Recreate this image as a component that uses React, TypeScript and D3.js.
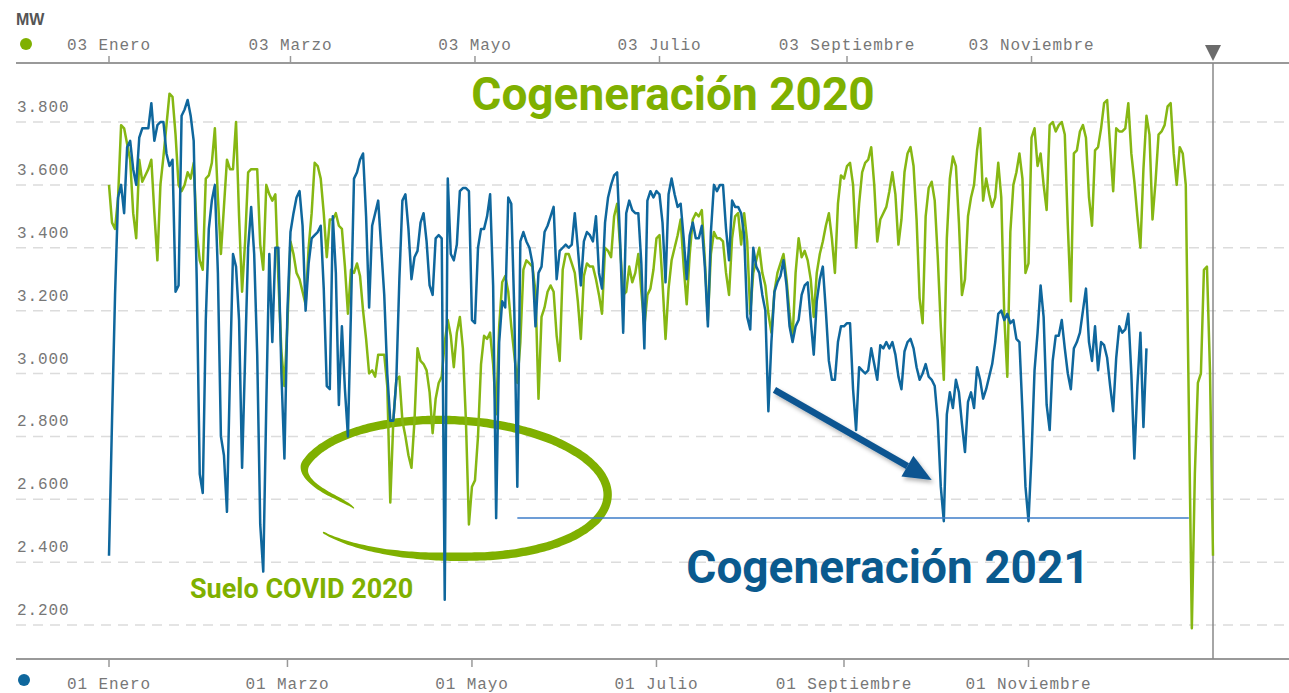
import * as d3 from "d3";

// Cogeneración diaria (MW). 2021 empieza el 01/01/2021, 2020 el 03/01/2020 (mismo día de la semana)
const inicio2021 = new Date(2021, 0, 1);
const inicio2020 = new Date(2020, 0, 3);

const cog2021 = [
  2420, 2850, 3250, 3560, 3600, 3510, 3720, 3740, 3650, 3600,
  3750, 3780, 3780, 3780, 3860, 3740, 3790, 3800, 3800, 3700,
  3660, 3680, 3260, 3280, 3820, 3840, 3870, 3820, 3740, 3300,
  2680, 2620, 3170, 3460, 3550, 3600, 3320, 2800, 2740, 2560,
  3000, 3380, 3340, 3170, 2700, 3050, 3400, 3530, 3380, 3060,
  2520, 2370, 2900, 3380, 3100, 3400, 3400, 3000, 2730, 3200,
  3450, 3510, 3560, 3580, 3470, 3200, 3350, 3430, 3440, 3450,
  3470, 3270, 2960, 2950, 3500, 3320, 2900, 3150, 2950, 2800,
  3200, 3620, 3640, 3680, 3700, 3500, 3210, 3470, 3510, 3550,
  3400, 3250, 3000, 2850, 2850, 2980, 3300, 3550, 3570, 3460,
  3300, 3370, 3390, 3480, 3510, 3420, 3280, 3250, 3430, 3440,
  3430, 2280, 3620, 3380, 3360, 3410, 3580, 3590, 3590, 3580,
  3170, 3160, 3400, 3460, 3460, 3500, 3570, 3280, 2540, 3100,
  3230, 3210, 3560, 3540, 3200, 2640, 3420, 3450, 3420, 3400,
  3350, 3150, 3320, 3340, 3450, 3470, 3500, 3530, 3300, 3390,
  3400, 3410, 3400, 3410, 3510, 3400, 3280, 3420, 3450, 3440,
  3420, 3500, 3320, 3270, 3480, 3560, 3600, 3630, 3640, 3420,
  3130, 3510, 3550, 3520, 3510, 3510, 3350, 3080, 3550, 3580,
  3560, 3580, 3570, 3480, 3290, 3570, 3620, 3570, 3530, 3540,
  3430, 3300, 3440, 3480, 3430, 3430, 3470, 3340, 3150, 3450,
  3600, 3580, 3600, 3600, 3460, 3360, 3550, 3530, 3530, 3510,
  3440, 3180, 3140, 3400, 3340, 3320, 3250, 3200, 2880, 3100,
  3260, 3290, 3310, 3360, 3280, 3150, 3100, 3150, 3170, 3250,
  3280, 3290, 3170, 3060, 3230, 3300, 3340, 3200, 3040, 2980,
  2980, 3100, 3150, 3150, 3160, 3160, 2950, 2820, 3020, 3010,
  3000, 3010, 3080, 3030, 2980, 3090, 3080, 3100, 3080, 3100,
  3060, 2990, 2950, 3070, 3100, 3110, 3080, 3020, 2980, 3000,
  3030, 2990, 2980, 2960, 2850, 2640, 2530, 2870, 2940, 2890,
  2980, 2940, 2840, 2750, 2910, 2940, 2890, 3020, 2980, 2920,
  2950, 2990, 3030, 3100, 3190, 3200, 3170, 3190, 3160, 3170,
  3110, 3100, 2880, 2640, 2530, 2740, 3010, 3130, 3280, 3180,
  2900, 2820, 3040, 3120, 3120, 3170, 3080, 3000, 2950, 3080,
  3100, 3130, 3200, 3270, 3100, 3040, 3150, 3010, 3100, 3090,
  3050, 2960, 2880, 3050, 3150, 3130, 3140, 3190, 3000, 2730,
  2960, 3130, 2830, 3080,
];

const cog2020 = [
  3600, 3480, 3460, 3560, 3790, 3780, 3730, 3680, 3510, 3430,
  3680, 3610, 3630, 3650, 3680, 3510, 3360, 3600, 3690, 3790,
  3890, 3880, 3760, 3600, 3580, 3600, 3640, 3620, 3670, 3450,
  3360, 3330, 3620, 3630, 3670, 3780, 3560, 3380, 3530, 3680,
  3650, 3650, 3800, 3500, 3260, 3420, 3640, 3650, 3650, 3650,
  3410, 3330, 3600, 3570, 3550, 3570, 3300, 3070, 2960, 3160,
  3420, 3380, 3320, 3300, 3260, 3220, 3400, 3510, 3670, 3660,
  3620, 3510, 3370, 3490, 3490, 3510, 3470, 3460, 3340, 3190,
  3330, 3320, 3350, 3310, 3200, 3110, 3000, 3010, 2990, 3060,
  3060, 3060, 2960, 2590, 2850, 2980, 2990, 2850, 2800, 2740,
  2700, 2850, 3080, 3040, 3030, 3010, 2940, 2810, 2920, 2970,
  2990, 3100, 3170, 3120, 3020, 3130, 3180, 3080, 2850, 2520,
  2640, 2660, 2800, 3030, 3120, 3110, 3130, 3030, 2870, 3150,
  3290, 3310, 3260, 3150, 3060, 2970, 3100, 3330, 3360, 3350,
  3340, 3260, 2920, 3180, 3210, 3260, 3280, 3260, 3120, 3040,
  3330, 3380, 3380, 3350, 3320, 3230, 3110, 3310, 3350, 3340,
  3340, 3300, 3250, 3190, 3400, 3390, 3370, 3500, 3540, 3400,
  3250, 3260, 3340, 3290, 3320, 3380, 3260, 3150, 3250, 3270,
  3330, 3430, 3440, 3290, 3110, 3270, 3360, 3400, 3440, 3490,
  3340, 3220, 3380, 3490, 3510, 3500, 3520, 3360, 3170, 3380,
  3450, 3430, 3430, 3420, 3320, 3250, 3430, 3500, 3510, 3410,
  3510, 3420, 3190, 3320, 3360, 3400, 3320, 3280, 3190, 3130,
  3260, 3320, 3350, 3380, 3300, 3190, 3110, 3320, 3430, 3370,
  3390, 3360, 3300, 3180, 3320, 3380, 3420, 3470, 3510, 3430,
  3320, 3540, 3630, 3620, 3660, 3670, 3600, 3400, 3540, 3640,
  3670, 3680, 3720, 3600, 3420, 3490, 3510, 3530, 3580, 3640,
  3570, 3410, 3490, 3640, 3700, 3720, 3660, 3490, 3240, 3160,
  3500, 3590, 3610, 3550, 3370, 3150, 2980, 3430, 3620, 3690,
  3660, 3480, 3250, 3300, 3500, 3560, 3600, 3710, 3780, 3550,
  3620, 3570, 3530, 3560, 3670, 3560, 3180, 2990, 3450, 3600,
  3640, 3700, 3620, 3320, 3350, 3750, 3780, 3660, 3700, 3600,
  3520, 3790, 3800, 3770, 3790, 3800, 3760, 3470, 3230, 3700,
  3710, 3770, 3790, 3750, 3560, 3470, 3710, 3720, 3780, 3860,
  3870, 3720, 3580, 3780, 3770, 3770, 3780, 3860, 3700, 3610,
  3500, 3400, 3650, 3820, 3760, 3490, 3610, 3760, 3770, 3790,
  3850, 3860, 3700, 3600, 3720, 3700, 3600, 2900, 2190, 2680,
  2970, 3000, 3330, 3340, 3010, 2420,
];

const meses = ["Enero", "Febrero", "Marzo", "Abril", "Mayo", "Junio", "Julio",
  "Agosto", "Septiembre", "Octubre", "Noviembre", "Diciembre"];
const mesesTick = [0, 2, 4, 6, 8, 10];
const yTicks = [2200, 2400, 2600, 2800, 3000, 3200, 3400, 3600, 3800];
const suelo2021 = 2540;

const W = 1289;
const H = 693;
const VERDE = "#86b713";
const AZUL = "#0f679d";
const VERDE_TXT = "#7fb000";
const AZUL_TXT = "#0a5a8e";
const MONO = "'Liberation Mono', 'DejaVu Sans Mono', monospace";
const ROBOTO = "Roboto, 'Noto Sans', sans-serif";

const dia = (start: Date, i: number) =>
  new Date(start.getFullYear(), start.getMonth(), start.getDate() + i);

const esLocale = d3.formatLocale({ decimal: ",", thousands: ".", grouping: [3], currency: ["", " €"] });
const fmt = esLocale.format(",");
const pad = d3.format("02");

// trazo a mano alzada: espiral elíptica con grosor variable (extremos finos)
function trazoElipse(cx: number, cy: number, rx: number, ry: number) {
  const t0 = 150, t1 = 499, rot = (3 * Math.PI) / 180;
  const smooth = (u: number) => (u <= 0 ? 0 : u >= 1 ? 1 : u * u * (3 - 2 * u));
  const outer: [number, number][] = [];
  const inner: [number, number][] = [];
  for (let t = t0; t <= t1; t += 2) {
    const a = (t * Math.PI) / 180;
    const r = 0.74 + 0.26 * smooth((t - t0) / 45) + 0.12 * smooth((t - 440) / 59);
    const u = (t - t0) / (t1 - t0);
    const taper = Math.pow(Math.min(1, u / 0.12), 0.7) * Math.pow(Math.min(1, (1 - u) / 0.14), 0.7);
    const w = 0.8 + 7.6 * taper;
    const px = rx * r * Math.cos(a);
    const py = ry * r * Math.sin(a);
    const nx = Math.cos(a) / rx, ny = Math.sin(a) / ry;
    const nl = Math.hypot(nx, ny);
    const ox = (nx / nl) * (w / 2), oy = (ny / nl) * (w / 2);
    const rotp = (qx: number, qy: number): [number, number] => [
      cx + qx * Math.cos(rot) - qy * Math.sin(rot),
      cy + qx * Math.sin(rot) + qy * Math.cos(rot),
    ];
    outer.push(rotp(px + ox, py + oy));
    inner.push(rotp(px - ox, py - oy));
  }
  const pts = outer.concat(inner.reverse());
  return d3.line().curve(d3.curveCatmullRomClosed)(pts) ?? "";
}

export default function App() {
  const left = 16;
  const top = 63;
  const bottom = 659;

  const x = d3.scaleTime().domain([inicio2021, new Date(2022, 0, 1)]).range([109, 1213]);
  const xTop = d3.scaleTime().domain([inicio2020, new Date(2021, 0, 2)]).range([109, 1213]);
  const y = d3.scaleLinear().domain([2200, 3800]).range([625, 122]);

  const d2021 = cog2021.map((v, i) => ({ date: dia(inicio2021, i), v }));
  const d2020 = cog2020.map((v, i) => ({ date: dia(inicio2020, i), v }));

  const line21 = d3.line<{ date: Date; v: number }>().x((d) => x(d.date)).y((d) => y(d.v));
  const line20 = d3.line<{ date: Date; v: number }>().x((d) => xTop(d.date)).y((d) => y(d.v));

  const topTicks = mesesTick.map((m) => new Date(2020, m, 3));
  const botTicks = mesesTick.map((m) => new Date(2021, m, 1));
  const marcaX = xTop(d2020[d2020.length - 1].date);

  // flecha: desde el hueco de agosto hasta el mínimo de octubre
  const ax0 = x(new Date(2021, 7, 9));
  const ay0 = y(2948);
  const ax1 = x(new Date(2021, 8, 30));
  const ay1 = y(2661);
  const ang = Math.atan2(ay1 - ay0, ax1 - ax0);
  const headL = 28;
  const headW = 12;
  const bx = ax1 - headL * Math.cos(ang);
  const by = ay1 - headL * Math.sin(ang);
  const head = [
    [ax1, ay1],
    [bx + headW * Math.sin(ang), by - headW * Math.cos(ang)],
    [bx - headW * Math.sin(ang), by + headW * Math.cos(ang)],
  ];

  // elipse alrededor del suelo COVID 2020
  const elipse = trazoElipse(x(new Date(2021, 3, 25)), y(2635), 154, 68);

  return (
    <svg width={W} height={H} style={{ position: "absolute", left: 0, top: 0, background: "#fff" }}>
      <defs>
        <filter id="sombra" x="-10%" y="-10%" width="130%" height="140%">
          <feDropShadow dx="2" dy="3" stdDeviation="2" floodColor="#000" floodOpacity="0.3" />
        </filter>
      </defs>

      <text x={left} y={25} fontFamily="'Liberation Sans', Arial, sans-serif" fontWeight="bold" fontSize={16} fill="#555">MW</text>

      {/* rejilla */}
      {yTicks.map((t) => (
        <g key={t}>
          <line x1={left} x2={W} y1={y(t)} y2={y(t)} stroke="#dcdcdc" strokeWidth={1.5} strokeDasharray="10,7" />
          <text x={17} y={y(t) - 10} fontFamily={MONO} fontSize={16} fill="#777" letterSpacing={0.9}>{fmt(t)}</text>
        </g>
      ))}

      {/* eje superior 2020 */}
      <line x1={left} x2={W} y1={top} y2={top} stroke="#999" strokeWidth={2} />
      <circle cx={26} cy={44} r={6} fill={VERDE_TXT} />
      {topTicks.map((t) => (
        <g key={+t} transform={`translate(${xTop(t)},0)`}>
          <line y1={top - 7} y2={top} stroke="#999" strokeWidth={1.5} />
          <text y={50} textAnchor="middle" fontFamily={MONO} fontSize={16} fill="#777" letterSpacing={0.9}>
            {`${pad(t.getDate())} ${meses[t.getMonth()]}`}
          </text>
        </g>
      ))}

      {/* eje inferior 2021 */}
      <line x1={left} x2={W} y1={bottom} y2={bottom} stroke="#999" strokeWidth={2} />
      <circle cx={24} cy={680} r={6} fill={AZUL} />
      {botTicks.map((t) => (
        <g key={+t} transform={`translate(${x(t)},0)`}>
          <line y1={bottom} y2={bottom + 8} stroke="#999" strokeWidth={1.5} />
          <text y={689} textAnchor="middle" fontFamily={MONO} fontSize={16} fill="#777" letterSpacing={0.9}>
            {`${pad(t.getDate())} ${meses[t.getMonth()]}`}
          </text>
        </g>
      ))}

      {/* marca fin de año */}
      <line x1={marcaX} x2={marcaX} y1={top} y2={bottom} stroke="#888" strokeWidth={1.5} />
      <path d={`M${marcaX - 8},${45} L${marcaX + 8},${45} L${marcaX},${61} Z`} fill="#6b6b6b" />

      <path d={elipse} fill={VERDE_TXT} stroke="none" />

      <path d={line20(d2020) ?? ""} fill="none" stroke={VERDE} strokeWidth={2.5} strokeLinejoin="round" />
      <path d={line21(d2021) ?? ""} fill="none" stroke={AZUL} strokeWidth={2.5} strokeLinejoin="round" />

      <line x1={x(new Date(2021, 4, 16))} x2={x(new Date(2021, 11, 24))} y1={y(suelo2021)} y2={y(suelo2021)}
        stroke="#3d7cc9" strokeWidth={1.5} />

      <g filter="url(#sombra)">
        <line x1={ax0} y1={ay0} x2={bx} y2={by} stroke="#0b5591" strokeWidth={6.5} />
        <polygon points={head.map((p) => p.join(",")).join(" ")} fill="#0b5591" />
      </g>

      <text x={673} y={110} textAnchor="middle" fontFamily={ROBOTO} fontWeight="bold" fontSize={46} fill={VERDE_TXT}>
        Cogeneración 2020
      </text>
      <text x={888} y={583} textAnchor="middle" fontFamily={ROBOTO} fontWeight="bold" fontSize={46} fill={AZUL_TXT}>
        Cogeneración 2021
      </text>
      <text x={190} y={598} fontFamily={ROBOTO} fontWeight="bold" fontSize={27} fill={VERDE_TXT}>
        Suelo COVID 2020
      </text>
    </svg>
  );
}
